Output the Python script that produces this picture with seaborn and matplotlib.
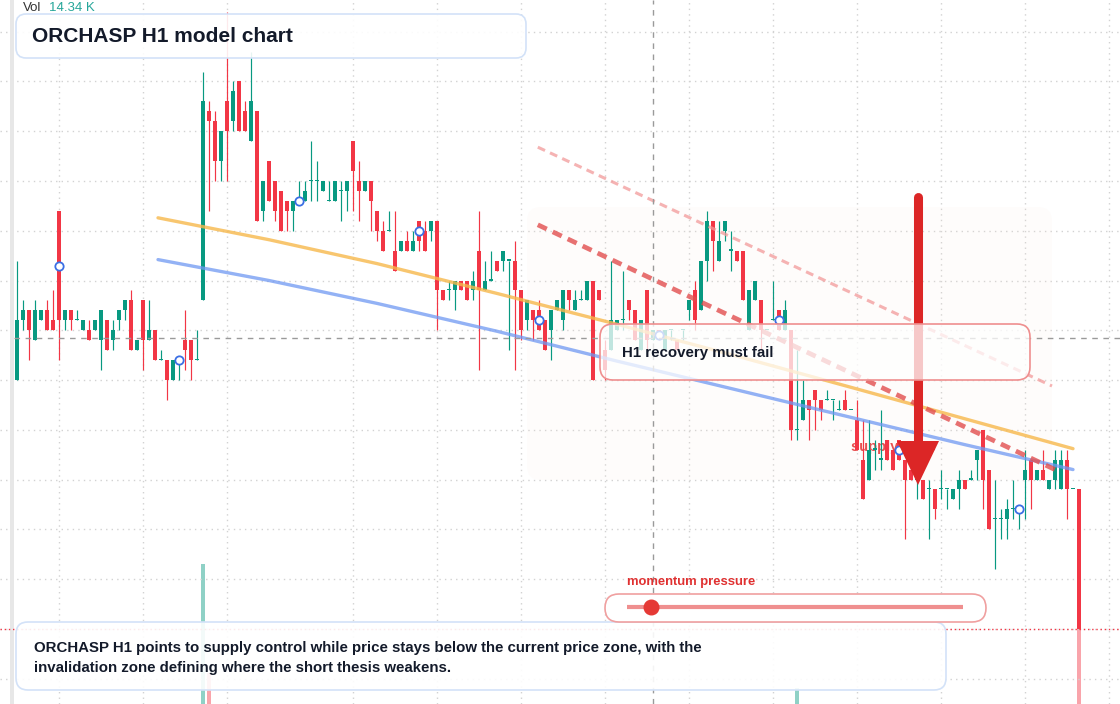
import matplotlib
matplotlib.use("Agg")
import matplotlib.pyplot as plt
import matplotlib.transforms as mtransforms
from matplotlib.patches import FancyBboxPatch, Rectangle, Polygon
import seaborn as sns
import numpy as np
import pandas as pd

# ---- candle data (H1 bars) ----
opens = [
    1.00, 1.06, 1.07, 1.04, 1.06, 1.07, 1.06, 1.17, 1.06, 1.07, 1.06, 1.05, 1.05, 1.05, 1.04,
    1.06, 1.04, 1.06, 1.07, 1.08, 1.03, 1.08, 1.04, 1.05, 1.02, 1.02, 1.00, 1.02, 1.04, 1.04,
    1.02, 1.08, 1.27, 1.26, 1.22, 1.28, 1.26, 1.30, 1.27, 1.24, 1.27, 1.17, 1.22, 1.20, 1.19,
    1.18, 1.17, 1.18, 1.18, 1.20, 1.20, 1.19, 1.18, 1.18, 1.19, 1.19, 1.24, 1.20, 1.19, 1.20,
    1.17, 1.15, 1.15, 1.13, 1.13, 1.14, 1.13, 1.16, 1.15, 1.15, 1.16, 1.09, 1.09, 1.09, 1.10,
    1.10, 1.09, 1.13, 1.09, 1.10, 1.12, 1.12, 1.12, 1.12, 1.09, 1.06, 1.07, 1.07, 1.06, 1.05,
    1.07, 1.06, 1.09, 1.07, 1.08, 1.08, 1.10, 1.09, 1.03, 1.03, 1.05, 1.06, 1.08, 1.07, 1.03,
    1.09, 1.04, 1.05, 1.03, 1.05, 1.04, 1.05, 1.07, 1.09, 1.07, 1.12, 1.16, 1.12, 1.15, 1.13,
    1.13, 1.13, 1.05, 1.08, 1.08, 1.05, 1.06, 1.07, 1.05, 1.05, 0.95, 0.96, 0.98, 0.99, 0.98,
    0.98, 0.98, 0.97, 0.98, 0.97, 0.96, 0.92, 0.90, 0.93, 0.92, 0.94, 0.93, 0.94, 0.92, 0.91,
    0.90, 0.90, 0.89, 0.89, 0.89, 0.89, 0.88, 0.89, 0.90, 0.90, 0.92, 0.95, 0.91, 0.86, 0.86,
    0.86, 0.87, 0.87, 0.90, 0.92, 0.90, 0.91, 0.89, 0.90, 0.89, 0.92, 0.89, 0.89,
]
highs = [
    1.12, 1.08, 1.07, 1.08, 1.07, 1.08, 1.09, 1.17, 1.07, 1.07, 1.07, 1.06, 1.06, 1.06, 1.07,
    1.06, 1.06, 1.07, 1.08, 1.09, 1.04, 1.08, 1.08, 1.05, 1.03, 1.02, 1.02, 1.02, 1.07, 1.04,
    1.05, 1.31, 1.28, 1.27, 1.25, 1.37, 1.30, 1.30, 1.28, 1.33, 1.27, 1.20, 1.22, 1.20, 1.19,
    1.18, 1.18, 1.20, 1.20, 1.24, 1.22, 1.20, 1.20, 1.20, 1.20, 1.20, 1.24, 1.22, 1.20, 1.20,
    1.17, 1.16, 1.17, 1.17, 1.14, 1.15, 1.15, 1.16, 1.16, 1.16, 1.16, 1.09, 1.10, 1.10, 1.10,
    1.10, 1.11, 1.17, 1.12, 1.13, 1.12, 1.13, 1.12, 1.14, 1.09, 1.08, 1.07, 1.08, 1.06, 1.07,
    1.08, 1.09, 1.09, 1.09, 1.09, 1.10, 1.10, 1.09, 1.04, 1.12, 1.06, 1.11, 1.08, 1.07, 1.06,
    1.09, 1.05, 1.05, 1.05, 1.05, 1.04, 1.05, 1.08, 1.10, 1.12, 1.17, 1.16, 1.16, 1.16, 1.15,
    1.13, 1.13, 1.09, 1.10, 1.08, 1.05, 1.10, 1.07, 1.08, 1.05, 1.03, 1.00, 0.98, 0.99, 0.98,
    0.99, 0.98, 0.98, 0.99, 0.97, 0.98, 0.96, 0.96, 0.94, 0.97, 0.94, 0.93, 0.94, 0.92, 0.91,
    0.90, 0.90, 0.90, 0.89, 0.91, 0.89, 0.89, 0.91, 0.90, 0.91, 0.93, 0.95, 0.91, 0.90, 0.87,
    0.88, 0.90, 0.87, 0.93, 0.92, 0.91, 0.93, 0.90, 0.93, 0.93, 0.93, 0.89, 0.89,
]
lows = [
    1.00, 1.05, 1.02, 1.04, 1.06, 1.05, 1.05, 1.02, 1.05, 1.05, 1.06, 1.05, 1.04, 1.05, 1.01,
    1.03, 1.03, 1.05, 1.06, 1.03, 1.03, 1.01, 1.04, 1.02, 1.02, 0.98, 1.00, 1.00, 1.01, 1.00,
    1.02, 1.08, 1.17, 1.20, 1.20, 1.20, 1.25, 1.25, 1.25, 1.24, 1.16, 1.16, 1.18, 1.16, 1.15,
    1.15, 1.15, 1.18, 1.18, 1.18, 1.18, 1.19, 1.18, 1.18, 1.16, 1.17, 1.17, 1.16, 1.19, 1.15,
    1.14, 1.13, 1.15, 1.11, 1.13, 1.13, 1.13, 1.13, 1.13, 1.14, 1.05, 1.08, 1.08, 1.07, 1.09,
    1.08, 1.08, 1.01, 1.09, 1.10, 1.11, 1.11, 1.03, 1.01, 1.04, 1.05, 1.04, 1.05, 1.03, 1.02,
    1.07, 1.05, 1.07, 1.07, 1.08, 1.08, 1.00, 1.08, 1.00, 1.03, 1.05, 1.05, 1.06, 1.04, 1.03,
    1.03, 1.04, 1.04, 1.03, 1.04, 1.03, 1.04, 1.06, 1.05, 1.07, 1.10, 1.11, 1.12, 1.14, 1.11,
    1.12, 1.08, 1.05, 1.08, 1.03, 1.05, 1.06, 1.05, 1.05, 0.94, 0.94, 0.96, 0.94, 0.95, 0.96,
    0.98, 0.96, 0.97, 0.97, 0.97, 0.93, 0.88, 0.90, 0.91, 0.91, 0.92, 0.91, 0.92, 0.84, 0.90,
    0.88, 0.88, 0.84, 0.86, 0.88, 0.87, 0.88, 0.87, 0.89, 0.90, 0.90, 0.87, 0.85, 0.81, 0.84,
    0.84, 0.86, 0.85, 0.86, 0.87, 0.90, 0.90, 0.89, 0.89, 0.89, 0.86, 0.89, 0.75,
]
closes = [
    1.06, 1.07, 1.05, 1.07, 1.07, 1.05, 1.05, 1.06, 1.07, 1.06, 1.06, 1.06, 1.04, 1.06, 1.07,
    1.03, 1.05, 1.07, 1.08, 1.03, 1.04, 1.04, 1.05, 1.02, 1.02, 1.00, 1.02, 1.02, 1.03, 1.02,
    1.02, 1.28, 1.26, 1.22, 1.25, 1.25, 1.29, 1.25, 1.25, 1.28, 1.16, 1.20, 1.18, 1.17, 1.15,
    1.17, 1.18, 1.18, 1.19, 1.20, 1.20, 1.20, 1.18, 1.20, 1.19, 1.20, 1.21, 1.19, 1.20, 1.18,
    1.15, 1.13, 1.15, 1.11, 1.14, 1.13, 1.14, 1.14, 1.13, 1.16, 1.09, 1.08, 1.09, 1.10, 1.09,
    1.08, 1.10, 1.09, 1.10, 1.10, 1.11, 1.13, 1.12, 1.09, 1.05, 1.08, 1.06, 1.05, 1.03, 1.07,
    1.08, 1.09, 1.08, 1.08, 1.08, 1.10, 1.00, 1.08, 1.01, 1.06, 1.06, 1.06, 1.07, 1.04, 1.06,
    1.04, 1.05, 1.04, 1.05, 1.05, 1.03, 1.05, 1.08, 1.06, 1.12, 1.16, 1.14, 1.14, 1.16, 1.13,
    1.12, 1.08, 1.09, 1.10, 1.05, 1.05, 1.06, 1.05, 1.07, 0.95, 0.95, 0.98, 0.97, 0.98, 0.97,
    0.98, 0.98, 0.97, 0.97, 0.97, 0.93, 0.88, 0.93, 0.93, 0.92, 0.92, 0.91, 0.92, 0.90, 0.90,
    0.90, 0.88, 0.89, 0.87, 0.89, 0.89, 0.89, 0.90, 0.89, 0.90, 0.93, 0.90, 0.85, 0.86, 0.86,
    0.87, 0.87, 0.87, 0.91, 0.90, 0.91, 0.90, 0.90, 0.92, 0.92, 0.89, 0.89, 0.75,
]
# volume in K, only a few bars are tall enough to show
volume_spikes = {31: 14.34, 32: 3.2, 130: 1.6, 177: 8.2}

# overlays: slow / fast averages and the descending channel
avg_idx = [23.5, 42, 60, 80, 100, 120, 140, 158, 176]
avg_orange = [1.163, 1.141, 1.117, 1.087, 1.056, 1.024, 0.991, 0.961, 0.931]
avg_blue = [1.121, 1.100, 1.077, 1.049, 1.019, 0.990, 0.961, 0.935, 0.910]
channel_idx = [86.8, 172.5]
channel_upper = [1.234, 0.994]
channel_mid_idx = [86.8, 173.0]
channel_mid = [1.156, 0.910]

marker_idx = [7, 27, 47, 67, 87, 107, 127, 147, 167]
grid_idx = [7, 21, 35, 56, 70, 84, 98, 112, 126, 140, 154, 168, 182]
cursor_idx, cursor_price = 106, 1.042
momentum_value = 0.07

title = "ORCHASP H1 model chart"
zone_note = "H1 recovery must fail"
summary_lines = [
    "ORCHASP H1 points to supply control while price stays below the current price zone, with the",
    "invalidation zone defining where the short thesis weakens.",
]

# ---- figure ----
sns.set_theme(style="white")
plt.rcParams['font.family'] = ['Liberation Sans', 'DejaVu Sans']

W, H = 1120, 704
fig = plt.figure(figsize=(W / 100, H / 100), dpi=100)
ax_vol = fig.add_axes([0, 0, 1, 1], zorder=0)
ax = fig.add_axes([0, 0, 1, 1], zorder=1)
ax.patch.set_alpha(0)
px = mtransforms.Affine2D().scale(1, -1).translate(0, H)  # pixel coords, origin top-left

df = pd.DataFrame({'open': opens, 'high': highs, 'low': lows, 'close': closes})
df['i'] = np.arange(len(df))
df['vol'] = [volume_spikes.get(i, 0.0) for i in df['i']]
up_c, dn_c = '#089981', '#f23645'
colors = np.where(df['close'] >= df['open'], up_c, dn_c)

xlim = (-17 / 6, (W - 17) / 6)
ylim = (0.6744, 1.3819)
body_w = 0.82

# volume
ax_vol.bar(df['i'], df['vol'], width=body_w, color=colors, alpha=0.45, linewidth=0)
ax_vol.set_xlim(xlim)
ax_vol.set_ylim(0, 72.1)
ax_vol.axis('off')

# grid
ax.set_xlim(xlim)
ax.set_ylim(ylim)
ax.set_xticks(grid_idx)
ax.set_yticks(np.arange(0.70, 1.40, 0.05))
ax.grid(True, color='#d2d2d2', linestyle=(0, (1, 3)), linewidth=1)
ax.set_axisbelow(True)
ax.tick_params(length=0, labelbottom=False, labelleft=False)
for s in ax.spines.values():
    s.set_visible(False)

# shaded invalidation zone
ax.add_patch(FancyBboxPatch((527, 207), 525, 273, boxstyle="round,pad=0,rounding_size=14",
                            transform=px, fc=(0.98, 0.90, 0.86, 0.10), ec='none', zorder=1))
ax.add_patch(Rectangle((10, 0), 4, H, transform=px, fc='#e7e7e7', ec='none', zorder=2))

# candles
body_lo = np.minimum(df['open'], df['close'])
body_h = np.maximum((df['close'] - df['open']).abs(), 0.0012)
ax.vlines(df['i'], df['low'], df['high'], colors=colors, linewidth=0.85, zorder=4)
ax.bar(df['i'], body_h, bottom=body_lo, width=body_w, color=colors, linewidth=0, zorder=4)

ax.text(851, 447, "supply zone", transform=px, color='#e53e3e', fontsize=10.5,
        fontweight='bold', va='center', alpha=0.9, zorder=3.5)

# averages
sns.lineplot(x=avg_idx, y=avg_orange, ax=ax, color='#f7b84b', linewidth=2.4, alpha=0.8, zorder=5)
sns.lineplot(x=avg_idx, y=avg_blue, ax=ax, color='#6f98f2', linewidth=2.4, alpha=0.75, zorder=5)

# channel
ax.plot(channel_idx, channel_upper, color='#f29a9a', linewidth=2.2, alpha=0.75,
        linestyle=(0, (2.6, 1.8)), zorder=5)
ax.plot(channel_mid_idx, channel_mid, color='#e24e4e', linewidth=3.4, alpha=0.8,
        linestyle=(0, (2.1, 1.4)), zorder=5)

# mid-body markers
mid = (df['open'] + df['close']) / 2
sns.scatterplot(x=marker_idx, y=mid.iloc[marker_idx].values, ax=ax, s=36, color='white',
                edgecolor='#3b6fe4', linewidth=1.3, zorder=6)

# cursor and last price
ax.axvline(cursor_idx, color='#9a9a9a', linewidth=1, linestyle=(0, (4, 4)), zorder=6)
ax.axhline(cursor_price, xmin=14 / W, color='#9a9a9a', linewidth=1, linestyle=(0, (4, 4)), zorder=6)
ax.axhline(closes[-1], color=dn_c, linewidth=1, linestyle=(0, (1, 2)), zorder=6)

# big down arrow
ax.plot([918, 918], [197, 445], transform=px, color='#dc2626', linewidth=6.5,
        solid_capstyle='round', zorder=7)
ax.add_patch(Polygon([(897, 441), (939, 441), (918, 485)], closed=True, transform=px,
                     fc='#dc2626', ec='none', zorder=7))

# note box
ax.add_patch(FancyBboxPatch((600, 324), 430, 56, boxstyle="round,pad=0,rounding_size=13",
                            transform=px, fc=(1, 1, 1, 0.75), ec='#ef8f8f', lw=1.2, zorder=8))
ax.text(622, 353, zone_note, transform=px, fontsize=10.8, fontweight='bold',
        color='#131a2a', va='center', zorder=9)

# title
ax.add_patch(FancyBboxPatch((16, 14), 510, 44, boxstyle="round,pad=0,rounding_size=10",
                            transform=px, fc=(1, 1, 1, 0.9), ec='#d3e2f8', lw=1.2, zorder=8))
ax.text(32, 36, title, transform=px, fontsize=15, fontweight='bold',
        color='#131a2a', va='center', zorder=9)
ax.text(23, 8, "Vol", transform=px, fontsize=9.5, color='#333333', va='center', zorder=9)
ax.text(49, 8, f"{volume_spikes[31]:.2f} K", transform=px, fontsize=9.5, color='#26a69a',
        va='center', zorder=9)

# summary box
ax.add_patch(FancyBboxPatch((16, 622), 930, 68, boxstyle="round,pad=0,rounding_size=12",
                            transform=px, fc=(1, 1, 1, 0.9), ec='#d3e2f8', lw=1.2, zorder=9))
for k, line in enumerate(summary_lines):
    ax.text(34, 648 + 20 * k, line, transform=px, fontsize=10.8, fontweight='bold',
            color='#131a2a', va='center', zorder=10)

# momentum gauge
ax.text(627, 582, "momentum pressure", transform=px, fontsize=9.4, fontweight='bold',
        color='#e03131', va='center', zorder=10)
ax.add_patch(FancyBboxPatch((605, 594), 381, 28, boxstyle="round,pad=0,rounding_size=14",
                            transform=px, fc='white', ec='#f0a0a0', lw=1.2, zorder=10))
ax.plot([627, 963], [607, 607], transform=px, color='#ef8f8f', linewidth=3,
        solid_capstyle='butt', zorder=11)
ax.plot([627 + momentum_value * 336], [607], 'o', transform=px, markersize=10.5,
        color='#e53935', zorder=12)

fig.savefig('out.png', dpi=100)
